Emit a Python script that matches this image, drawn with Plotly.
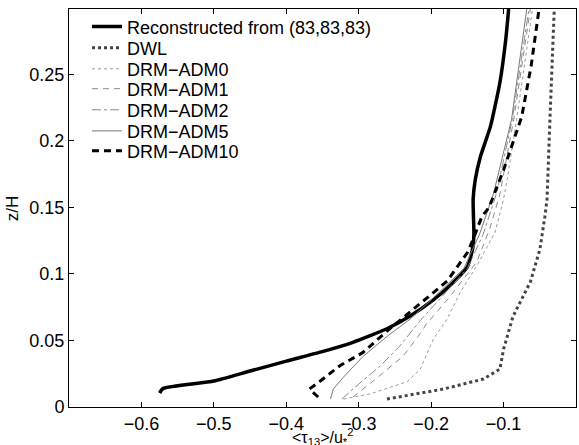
import plotly.graph_objects as go

# ---- data ----
rec_z = [0.0105, 0.014, 0.0195, 0.027, 0.0345, 0.0412, 0.0486, 0.0588, 0.0683, 0.0804, 0.0912, 0.1052, 0.121, 0.131, 0.156, 0.171, 0.188, 0.211, 0.244, 0.276, 0.299]
rec_x = [-0.575, -0.570, -0.50, -0.45, -0.40, -0.353, -0.308, -0.261, -0.229, -0.197, -0.174, -0.150, -0.142, -0.141, -0.142, -0.139, -0.132, -0.118, -0.105, -0.097, -0.093]

dwl_z = [0.006, 0.0135, 0.021, 0.0285, 0.0435, 0.068, 0.094, 0.118, 0.143, 0.156, 0.216, 0.299]
dwl_x = [-0.261, -0.183, -0.128, -0.105, -0.100, -0.087, -0.063, -0.050, -0.043, -0.040, -0.036, -0.030]

adm0_z = [0.006, 0.0098, 0.019, 0.0285, 0.051, 0.066, 0.086, 0.106, 0.131, 0.156, 0.171, 0.216, 0.299]
adm0_x = [-0.321, -0.284, -0.233, -0.215, -0.197, -0.178, -0.160, -0.137, -0.112, -0.100, -0.095, -0.082, -0.060]

adm1_z = [0.0075, 0.0195, 0.038, 0.053, 0.062, 0.083, 0.109, 0.134, 0.160, 0.216, 0.299]
adm1_x = [-0.308, -0.280, -0.239, -0.218, -0.207, -0.174, -0.137, -0.119, -0.105, -0.086, -0.063]

adm2_z = [0.006, 0.0135, 0.031, 0.046, 0.065, 0.083, 0.104, 0.130, 0.160, 0.216, 0.299]
adm2_x = [-0.323, -0.308, -0.270, -0.243, -0.215, -0.185, -0.150, -0.128, -0.110, -0.088, -0.065]

adm5_z = [0.006, 0.0135, 0.0225, 0.038, 0.053, 0.066, 0.083, 0.104, 0.130, 0.160, 0.216, 0.299]
adm5_x = [-0.339, -0.335, -0.321, -0.294, -0.261, -0.229, -0.195, -0.155, -0.133, -0.114, -0.089, -0.068]

adm10_z = [0.0075, 0.0135, 0.0195, 0.031, 0.041, 0.057, 0.0945, 0.116, 0.126, 0.143, 0.150, 0.178, 0.218, 0.256, 0.299]
adm10_x = [-0.356, -0.368, -0.353, -0.326, -0.294, -0.261, -0.178, -0.150, -0.142, -0.130, -0.120, -0.100, -0.075, -0.062, -0.051]

x_ticks = [-0.6, -0.5, -0.4, -0.3, -0.2, -0.1, 0]
x_tick_labels = ["−0.6", "−0.5", "−0.4", "−0.3", "−0.2", "−0.1", "0"]
y_ticks = [0, 0.05, 0.1, 0.15, 0.2, 0.25]
y_tick_labels = ["0", "0.05", "0.1", "0.15", "0.2", "0.25"]

FONT = "Liberation Sans, Arial, sans-serif"

series = [
    ("Reconstructed from (83,83,83)", rec_x, rec_z, dict(color="black", width=3.5, dash="solid", shape="spline", smoothing=0.5)),
    ("DWL", dwl_x, dwl_z, dict(color="#444444", width=3, dash="dot")),
    ("DRM−ADM0", adm0_x, adm0_z, dict(color="#9a9a9a", width=1, dash="dot")),
    ("DRM−ADM1", adm1_x, adm1_z, dict(color="#8a8a8a", width=1, dash="6px,5px")),
    ("DRM−ADM2", adm2_x, adm2_z, dict(color="#8a8a8a", width=1, dash="dashdot")),
    ("DRM−ADM5", adm5_x, adm5_z, dict(color="#7a7a7a", width=1, dash="solid")),
    ("DRM−ADM10", adm10_x, adm10_z, dict(color="black", width=3, dash="7px,5px")),
]
# one legend per entry so the rows can sit as tightly as in the reference
legend_rows = [0.955, 0.902, 0.849, 0.799, 0.746, 0.693, 0.643]

fig = go.Figure()
legend_layout = {}
for i, (name, xs, zs, ln) in enumerate(series):
    key = "legend" if i == 0 else f"legend{i + 1}"
    fig.add_trace(go.Scatter(x=xs, y=zs, mode="lines", name=name, line=ln, legend=key))
    legend_layout[key] = dict(
        x=0.0355, y=legend_rows[i], xanchor="left", yanchor="middle",
        bgcolor="rgba(0,0,0,0)", borderwidth=0, itemwidth=30,
        font=dict(family=FONT, size=18, color="black"),
    )

axis_common = dict(
    showgrid=False, zeroline=False, showline=True, linecolor="black", linewidth=1,
    mirror="ticks", ticks="inside", ticklen=5, tickcolor="black", automargin=False,
    tickfont=dict(family=FONT, size=18, color="black"),
)
fig.update_xaxes(range=[-0.7, 0], tickvals=x_ticks, ticktext=x_tick_labels, **axis_common)
fig.update_yaxes(range=[0, 0.299], tickvals=y_ticks, ticktext=y_tick_labels, **axis_common)

fig.update_layout(
    width=579, height=445,
    margin=dict(l=69, r=3, t=9, b=38),
    paper_bgcolor="white", plot_bgcolor="white",
    font=dict(family=FONT, size=17, color="black"),
    showlegend=True,
    annotations=[
        dict(text="&lt;τ<sub>13</sub>&gt;/u<sub>*</sub><sup>2</sup>", xref="paper", yref="paper",
             x=0.5, y=-0.076, xanchor="center", yanchor="middle", showarrow=False,
             font=dict(family=FONT, size=16, color="black")),
        dict(text="z/H", xref="paper", yref="paper", x=-0.112, y=0.5,
             xanchor="center", yanchor="middle", textangle=-90, showarrow=False,
             font=dict(family=FONT, size=17, color="black")),
    ],
    **legend_layout,
)
fig.write_html("out.html", config={"displayModeBar": False},
               post_script="document.body.style.margin='0';document.body.style.overflow='hidden';")
